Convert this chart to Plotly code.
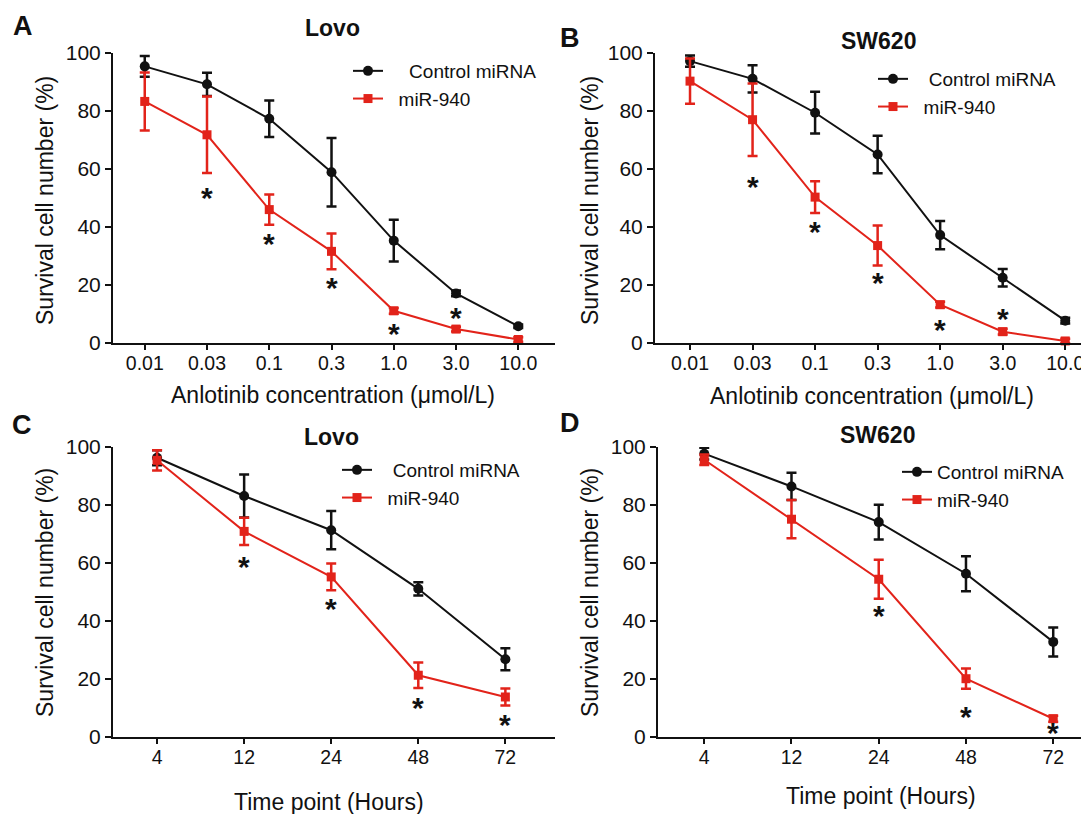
import plotly.graph_objects as go

W, H = 1089, 814
OFF = 8                     # the page body margin offsets the figure by 8 px
FW, FH = W - OFF, H - OFF   # figure size so that it ends at the window edges

# ---------------- data ----------------
conc = ["0.01", "0.03", "0.1", "0.3", "1.0", "3.0", "10.0"]
hours = ["4", "12", "24", "48", "72"]

A_ctrl = [95.4, 89.2, 77.3, 58.9, 35.3, 17.1, 5.8]
A_ctrl_err = [3.6, 4.0, 6.3, 11.8, 7.2, 1.0, 0.6]
A_mir = [83.3, 71.8, 46.0, 31.6, 11.1, 4.8, 1.2]
A_mir_err = [10.0, 13.2, 5.2, 6.2, 1.0, 0.8, 0.8]

B_ctrl = [97.2, 91.1, 79.4, 65.0, 37.2, 22.5, 7.7]
B_ctrl_err = [1.9, 4.7, 7.2, 6.5, 4.9, 3.0, 1.0]
B_mir = [90.3, 77.0, 50.3, 33.6, 13.2, 3.9, 0.7]
B_mir_err = [7.8, 12.5, 5.5, 6.9, 1.0, 1.0, 0.8]

C_ctrl = [96.3, 83.1, 71.3, 51.1, 26.8]
C_ctrl_err = [2.6, 7.4, 6.6, 2.3, 3.8]
C_mir = [95.4, 70.9, 55.2, 21.3, 13.8]
C_mir_err = [3.5, 4.7, 4.6, 4.4, 2.9]

D_ctrl = [97.7, 86.4, 74.1, 56.3, 32.8]
D_ctrl_err = [2.0, 4.7, 6.0, 6.0, 5.0]
D_mir = [95.6, 75.1, 54.4, 20.1, 6.3]
D_mir_err = [1.8, 6.6, 6.7, 3.5, 1.0]

A_star_x = ["0.03", "0.1", "0.3", "1.0", "3.0"]
A_star_y = [51.4, 35.8, 20.5, 4.7, 10.3]
B_star_x = ["0.03", "0.1", "0.3", "1.0", "3.0"]
B_star_y = [55.3, 40.0, 22.1, 6.2, 9.9]
C_star_x = ["12", "24", "48", "72"]
C_star_y = [60.1, 45.7, 11.5, 5.7]
D_star_x = ["24", "48", "72"]
D_star_y = [43.4, 8.3, 2.9]

ctrl_name = "Control miRNA"
mir_name = "miR-940"
titles = ["Lovo", "SW620", "Lovo", "SW620"]
letters = ["A", "B", "C", "D"]
xtitles = ["Anlotinib concentration (\u03bcmol/L)", "Anlotinib concentration (\u03bcmol/L)",
           "Time point (Hours)", "Time point (Hours)"]
ytitle = "Survival cell number (%)"
yticks = [0, 20, 40, 60, 80, 100]

# ---------------- style ----------------
FONT = "Liberation Sans, Arial, Helvetica, sans-serif"
BLACK = "#111111"
RED = "#e2231a"


def px(x):
    return (x - OFF) / FW


def py(y):
    return 1 - (y - OFF) / FH


panels = [
    dict(x=conc, c=A_ctrl, ce=A_ctrl_err, m=A_mir, me=A_mir_err, sx=A_star_x, sy=A_star_y,
         xd=(113, 555), yd=(343, 53), xr=[-0.51, 6.59]),
    dict(x=conc, c=B_ctrl, ce=B_ctrl_err, m=B_mir, me=B_mir_err, sx=B_star_x, sy=B_star_y,
         xd=(655, 1089), yd=(343, 53), xr=[-0.56, 6.38]),
    dict(x=hours, c=C_ctrl, ce=C_ctrl_err, m=C_mir, me=C_mir_err, sx=C_star_x, sy=C_star_y,
         xd=(113, 555), yd=(737, 447), xr=[-0.506, 4.57]),
    dict(x=hours, c=D_ctrl, ce=D_ctrl_err, m=D_mir, me=D_mir_err, sx=D_star_x, sy=D_star_y,
         xd=(658, 1089), yd=(737, 447), xr=[-0.53, 4.41]),
]

# text placement (pixels in the window)
letter_pos = [(23, 26), (570, 38), (22, 425), (570, 423)]
title_pos = [(332, 28), (878, 41), (331, 437), (877, 435)]
xtitle_pos = [(333, 395), (872, 396), (329, 802), (881, 796)]
ytitle_pos = [(45, 201), (590, 201), (45, 593), (590, 593)]
legend_pos = [(348, 52), (873, 60), (337, 451), (897, 453)]
ctrl_pad = [4, 3, 3, 0]
mir_pad = [2, 2, 2, 0]

fig = go.Figure()
annotations = []
layout = {}


def label(x, y, text, size, angle=0):
    return dict(x=px(x), y=py(y), xref="paper", yref="paper", text=text, showarrow=False,
                xanchor="center", yanchor="middle", textangle=angle,
                font=dict(family=FONT, size=size, color=BLACK))


for i, p in enumerate(panels):
    n = "" if i == 0 else str(i + 1)
    xa, ya = "x" + n, "y" + n
    lg = "legend" + n
    fig.add_trace(go.Scatter(
        x=p["x"], y=p["c"], mode="lines+markers", xaxis=xa, yaxis=ya,
        name="\u00a0" * ctrl_pad[i] + ctrl_name, legend=lg, legendgroup="c" + n,
        line=dict(color=BLACK, width=2),
        marker=dict(symbol="circle", size=10, color=BLACK),
        error_y=dict(type="data", array=p["ce"], visible=True, color=BLACK, thickness=2.5, width=5),
        cliponaxis=False,
    ))
    fig.add_trace(go.Scatter(
        x=p["x"], y=p["m"], mode="lines+markers", xaxis=xa, yaxis=ya,
        name="\u00a0" * mir_pad[i] + mir_name, legend=lg, legendgroup="m" + n,
        line=dict(color=RED, width=2),
        marker=dict(symbol="square", size=9, color=RED),
        error_y=dict(type="data", array=p["me"], visible=True, color=RED, thickness=2.5, width=5),
        cliponaxis=False,
    ))

    layout["xaxis" + n] = dict(
        domain=[px(p["xd"][0]), px(p["xd"][1])], anchor=ya, type="category",
        categoryorder="array", categoryarray=p["x"], range=p["xr"], automargin=False,
        showline=True, linecolor=BLACK, linewidth=2, ticks="outside", ticklen=5,
        tickwidth=2, tickcolor=BLACK, showgrid=False, zeroline=False, ticklabelstandoff=-3,
        tickfont=dict(family=FONT, size=19.5, color=BLACK),
    )
    layout["yaxis" + n] = dict(
        domain=[py(p["yd"][0]), py(p["yd"][1])], anchor=xa, range=[0, 100], automargin=False,
        tickvals=yticks, showline=True, linecolor=BLACK, linewidth=2, ticks="outside",
        ticklen=6, tickwidth=2, tickcolor=BLACK, showgrid=False, zeroline=False,
        tickfont=dict(family=FONT, size=21, color=BLACK),
    )
    lx, ly = legend_pos[i]
    layout[lg] = dict(
        x=px(lx), y=py(ly), xanchor="left", yanchor="top", bgcolor="rgba(0,0,0,0)",
        font=dict(family=FONT, size=19, color=BLACK), tracegroupgap=0,
        traceorder="grouped", itemwidth=30,
    )

    # significance asterisks, placed at the category index of each marked point
    for sx, sy in zip(p["sx"], p["sy"]):
        annotations.append(dict(
            x=p["x"].index(sx), y=sy, xref=xa, yref=ya, text="<b>*</b>", showarrow=False,
            xanchor="center", yanchor="middle", yshift=-4,
            font=dict(family=FONT, size=30, color=BLACK),
        ))

    annotations.append(label(*letter_pos[i], "<b>%s</b>" % letters[i], 27))
    annotations.append(label(*title_pos[i], "<b>%s</b>" % titles[i], 23))
    annotations.append(label(*xtitle_pos[i], xtitles[i], 23))
    annotations.append(label(*ytitle_pos[i], ytitle, 23, -90))

fig.update_layout(
    width=FW, height=FH, margin=dict(l=0, r=0, t=0, b=0, pad=0, autoexpand=False),
    paper_bgcolor="white", plot_bgcolor="white",
    annotations=annotations, showlegend=True,
    font=dict(family=FONT, color=BLACK),
    **layout,
)

fig.write_html("out.html")
